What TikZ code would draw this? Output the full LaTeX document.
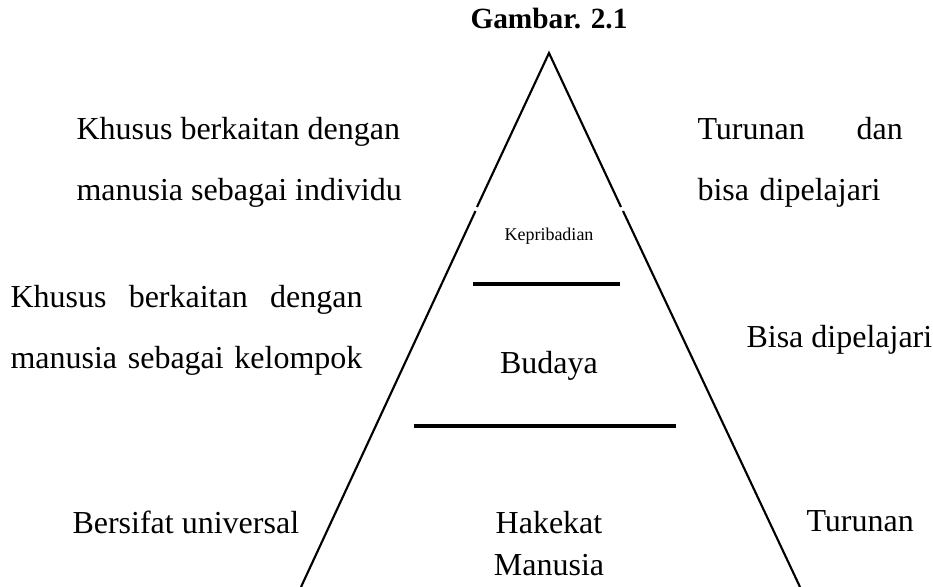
\documentclass[tikz,border=0pt]{standalone}
\usepackage{fontspec}
\setmainfont{Liberation Serif}
\begin{document}
\begin{tikzpicture}[x=0.375pt,y=-0.375pt,
    side/.style={line width=0.8pt},
    bar/.style={line width=1.2pt},
    note/.style={anchor=west,inner sep=0pt,align=left,font=\fontsize{12}{22.9}\selectfont},
    level/.style={inner sep=0pt,align=center,font=\fontsize{12}{15.75}\selectfont}]
    \useasboundingbox(0,0)rectangle(933,587);
    % segitiga
    \coordinate(a)at(549,53);
    \coordinate(b)at(301,587);
    \coordinate(c)at(800,587);
    \coordinate(d1)at(477,207);
    \coordinate(d2)at(475.5,211);
    \coordinate(e1)at(621,207);
    \coordinate(e2)at(623,211);
    \draw[side](d1)--(a)--(e1);
    \draw[side](d2)--(b);
    \draw[side](e2)--(c);
    % garis pemisah
    \coordinate(f1)at(473,284);
    \coordinate(f2)at(620,284);
    \coordinate(g1)at(414,426);
    \coordinate(g2)at(676,426);
    \draw[bar](f1)--(f2);
    \draw[bar](g1)--(g2);
    % teks
    \node(1)at(549,19)[font=\fontsize{11}{13}\selectfont\bfseries]{Gambar. 2.1};
    \node(2)at(549,236)[inner sep=0pt,font=\fontsize{6.75}{8}\selectfont]{Kepribadian};
    \node(3)at(549,366)[level]{Budaya};
    \node(4)at(549,544)[level]{Hakekat\\Manusia};
    \node(5)at(76,162.5)[note]{Khusus berkaitan dengan\\manusia sebagai individu};
    \node(6)at(10,330)[note,text width=132pt]{Khusus\hfill berkaitan\hfill dengan\\manusia sebagai kelompok};
    \node(7)at(72,522)[note]{Bersifat universal};
    \node(8)at(697,162.5)[note,text width=77pt]{Turunan\hfill dan\\bisa dipelajari};
    \node(9)at(746,340)[note]{Bisa dipelajari};
    \node(10)at(806,521)[note]{Turunan};
\end{tikzpicture}
\end{document}
